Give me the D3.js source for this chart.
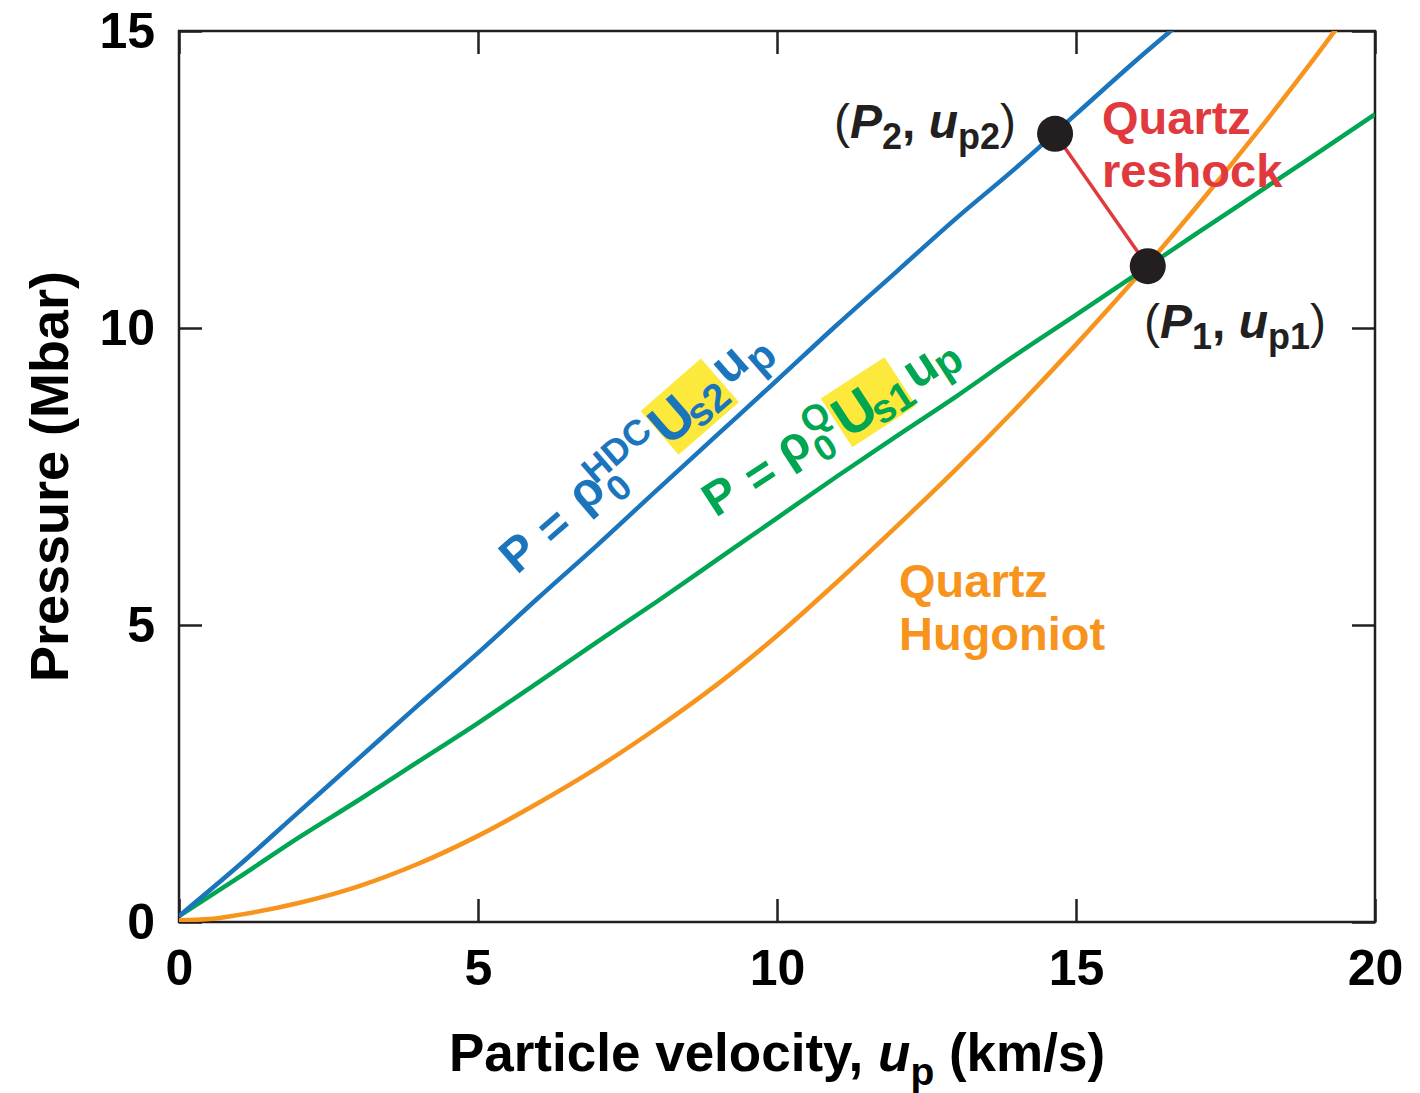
<!DOCTYPE html>
<html>
<head>
<meta charset="utf-8">
<script src="https://cdn.jsdelivr.net/npm/d3@7"></script>
<style>
  body { margin: 0; background: #fff; }
  svg { font-family: 'Liberation Sans', Arial, Helvetica, sans-serif; font-weight: bold; }
</style>
</head>
<body>
<svg id="chart" width="1420" height="1093"></svg>
<script>
// values (u_p in km/s, P in Mbar)
const upBlue = [0, 1, 2, 3, 4, 5, 6, 7, 8, 9, 10, 11, 12, 13, 14, 15, 16, 16.7]
const pBlue = [0.1, 0.95, 1.85, 2.75, 3.65, 4.53, 5.45, 6.35, 7.28, 8.2, 9.12, 10.05, 10.95, 11.85, 12.7, 13.6, 14.5, 15.1]

const upGreen = [0, 1, 2, 3, 4, 5, 6, 7, 8, 9, 10, 11, 12, 13, 14, 15, 16, 17, 18, 19, 20]
const pGreen = [0.1, 0.75, 1.42, 2.05, 2.7, 3.35, 4.03, 4.72, 5.4, 6.1, 6.8, 7.5, 8.18, 8.85, 9.55, 10.22, 10.9, 11.58, 12.25, 12.92, 13.6]

const upOrange = [0, 0.5, 1, 2, 3, 4, 5, 6, 7, 8, 9, 10, 11, 12, 13, 14, 15, 16, 17, 18, 19, 19.4]
const pOrange = [0.03, 0.05, 0.12, 0.32, 0.6, 0.98, 1.45, 2.0, 2.6, 3.27, 4.0, 4.82, 5.72, 6.66, 7.63, 8.65, 9.72, 10.84, 12.02, 13.26, 14.56, 15.1]

// reshock states
const stateUp = [14.65, 16.2]
const stateP = [13.27, 11.04]

const xTicks = [0, 5, 10, 15, 20]
const yTicks = [0, 5, 10, 15]

const margin = { top: 31, left: 179, right: 45, bottom: 171 }
const width = 1420 - margin.left - margin.right,
	height = 1093 - margin.top - margin.bottom

const svg = d3.select('#chart')
const g = svg.append('g').attr('transform', `translate(${margin.left},${margin.top})`)

const x = d3.scaleLinear().domain([0, 20]).range([0, width])
const y = d3.scaleLinear().domain([0, 15]).range([height, 0])

svg.append('defs').append('clipPath').attr('id', 'plot')
	.append('rect').attr('width', width).attr('height', height)

const ink = '#231f20'
const tick = 23

// axes, ticks point inward on all four sides
const styleAxis = (sel) => {
	sel.select('.domain').remove()
	sel.selectAll('.tick line').attr('stroke', ink).attr('stroke-width', 2.5)
	sel.selectAll('.tick text').attr('fill', '#000').style('font-size', '50px').style('font-weight', 'bold')
		.style('font-family', "'Liberation Sans', Arial, sans-serif")
}
g.append('g').attr('transform', `translate(0,${height})`)
	.call(d3.axisBottom(x).tickValues(xTicks).tickSizeInner(-tick).tickSizeOuter(0).tickPadding(27))
	.call(styleAxis)
g.append('g')
	.call(d3.axisTop(x).tickValues(xTicks).tickSizeInner(-tick).tickSizeOuter(0).tickFormat(''))
	.call(styleAxis)
g.append('g')
	.call(d3.axisLeft(y).tickValues(yTicks).tickSizeInner(-tick).tickSizeOuter(0).tickPadding(24))
	.call(styleAxis)
g.append('g').attr('transform', `translate(${width},0)`)
	.call(d3.axisRight(y).tickValues(yTicks).tickSizeInner(-tick).tickSizeOuter(0).tickFormat(''))
	.call(styleAxis)

g.append('rect').attr('width', width).attr('height', height)
	.attr('fill', 'none').attr('stroke', ink).attr('stroke-width', 2.5)

// curves
const line = d3.line().x(d => x(d[0])).y(d => y(d[1])).curve(d3.curveMonotoneX)
const curves = [
	{ up: upOrange, p: pOrange, color: '#f7941d' },
	{ up: upGreen, p: pGreen, color: '#00a651' },
	{ up: upBlue, p: pBlue, color: '#1b75bc' }
]
const plot = g.append('g').attr('clip-path', 'url(#plot)')
curves.forEach(c => {
	plot.append('path')
		.attr('d', line(d3.zip(c.up, c.p)))
		.attr('fill', 'none').attr('stroke', c.color).attr('stroke-width', 4.5)
		.attr('stroke-linejoin', 'round')
})

const states = d3.zip(stateUp, stateP)
g.append('path')
	.attr('d', d3.line().x(d => x(d[0])).y(d => y(d[1]))(states))
	.attr('stroke', '#e0393e').attr('stroke-width', 3.5).attr('fill', 'none')
g.selectAll('circle.state').data(states).join('circle')
	.attr('class', 'state')
	.attr('cx', d => x(d[0])).attr('cy', d => y(d[1])).attr('r', 18)
	.attr('fill', ink)

// axis titles
const xt = svg.append('text').attr('x', margin.left + width / 2).attr('y', 1071)
	.attr('text-anchor', 'middle').style('font-size', '53px').attr('fill', '#000')
xt.append('tspan').text('Particle velocity, ')
xt.append('tspan').text('u').style('font-style', 'italic')
xt.append('tspan').text('p').attr('dy', 14).style('font-size', '39px')
xt.append('tspan').text(' (km/s)').attr('dy', -14)

svg.append('text')
	.attr('transform', `translate(68,${margin.top + height / 2}) rotate(-90)`)
	.attr('text-anchor', 'middle').style('font-size', '54px').attr('fill', '#000')
	.text('Pressure (Mbar)')

// state labels
const stateLabel = (sx, sy, n) => {
	const t = svg.append('text').attr('x', sx).attr('y', sy).style('font-size', '48px').attr('fill', ink)
	t.append('tspan').text('(').style('font-weight', 'normal')
	t.append('tspan').text('P').style('font-style', 'italic')
	t.append('tspan').text(n).attr('dy', 11).style('font-size', '36px')
	t.append('tspan').text(', ').attr('dy', -11)
	t.append('tspan').text('u').style('font-style', 'italic')
	t.append('tspan').text('p' + n).attr('dy', 11).style('font-size', '36px')
	t.append('tspan').text(')').attr('dy', -11).style('font-weight', 'normal')
}
stateLabel(834, 138, '2')
stateLabel(1144, 338, '1')

const block = (lines, lx, ly, color) => {
	const t = svg.append('text').style('font-size', '47px').attr('fill', color)
	lines.forEach((s, i) => t.append('tspan').attr('x', lx).attr('y', ly + i * 53).text(s))
}
block(['Quartz', 'reshock'], 1102, 134, '#e0393e')
block(['Quartz', 'Hugoniot'], 899, 597, '#f7941d')

// rotated equation labels: pieces placed along the text baseline
const eqLabel = (cx, cy, angle, color, spec) => {
	const lg = svg.append('g').attr('transform', `translate(${cx},${cy}) rotate(${-angle})`)
	lg.append('rect').attr('x', spec.box[0]).attr('y', spec.box[1])
		.attr('width', spec.box[2]).attr('height', spec.box[3]).attr('fill', '#fde93b')
	spec.parts.forEach(p => {
		lg.append('text').attr('x', p[1]).attr('y', p[2]).attr('text-anchor', 'middle')
			.style('font-size', p[3] + 'px').attr('fill', color).text(p[0])
	})
}
eqLabel(518, 552, 41, '#1b75bc', {
	box: [185, -26, 80, 58],
	parts: [['P', 0, 17, 48], ['=', 44, 20, 48], ['ρ', 91, 15, 50], ['0', 118, 30, 36],
		['HDC', 141, 0, 36], ['U', 203, 20, 56], ['s2', 240, 27, 40], ['u', 283, 13, 50], ['p', 311, 26, 42]]
})
eqLabel(720, 495, 33, '#00a651', {
	box: [137, -26, 76, 58],
	parts: [['P', 0, 17, 48], ['=', 45, 21, 48], ['ρ', 88, 14, 50], ['0', 114, 30, 36],
		['Q', 122, -1, 36], ['U', 158, 23, 56], ['s1', 195, 30, 40], ['u', 237, 19, 50], ['p', 264, 26, 42]]
})
</script>
</body>
</html>
